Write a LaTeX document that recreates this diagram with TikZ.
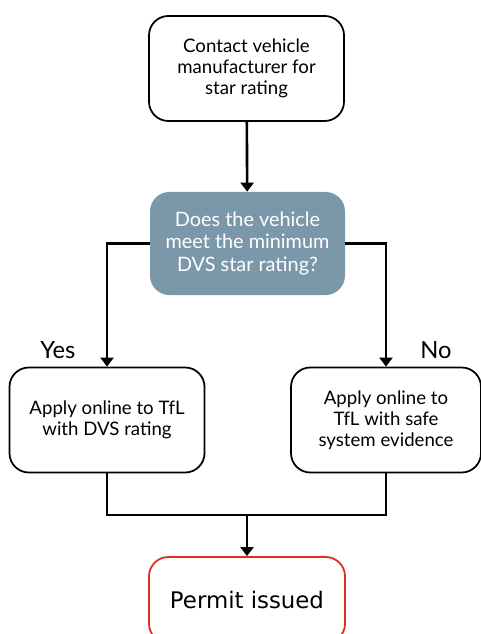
\documentclass[tikz,border=0pt]{standalone}
\usepackage{fontspec}
\setmainfont{Lato}
\newfontfamily\permitfont{DejaVu Sans}
\usetikzlibrary{arrows.meta,positioning}
\definecolor{slate}{RGB}{123,152,170}
\definecolor{permitred}{RGB}{222,45,35}
\tikzset{
  >={Triangle[length=1.8mm,width=2.6mm]},
  stepbox/.style={draw=#1,fill=white,line width=1pt,rounded corners=11pt,
    minimum height=21mm,minimum width=39mm,align=center,
    font=\fontsize{10.6}{12}\selectfont},
  stepbox/.default=black,
  decision/.style={fill=slate,text=white,rounded corners=11pt,
    minimum height=20.6mm,minimum width=39mm,align=center,
    font=\fontsize{11.3}{12.6}\selectfont},
  flow/.style={->,line width=1.5pt},
  flow/.default=black,
  answer/.style={font=\fontsize{13.5}{15}\selectfont},
}

\begin{document}
\begin{tikzpicture}
  \clip (0,0) rectangle (9.62,-12.68);
  % boxes
  \node[stepbox] (contact) at (4.93,-1.37) {Contact vehicle\\manufacturer for\\star rating};
  \node[decision] (check) at (4.95,-4.87) {Does the vehicle\\meet the minimum\\DVS star rating?};
  \node[stepbox] (yesapply) at (2.14,-8.4) {Apply online to TfL\\with DVS rating};
  \node[stepbox,minimum width=38mm] (noapply) at (7.72,-8.4) {Apply online to\\TfL with safe\\system evidence};
  \node[stepbox=permitred,minimum width=39.2mm,minimum height=17.2mm] (permit) at (4.94,-12.0) {\permitfont\fontsize{13}{15}\selectfont Permit issued};
  % answers
  \node[answer] (yes) at (1.16,-7.0) {Yes};
  \node[answer] (no) at (8.72,-7.0) {No};
  % connectors
  \draw[flow] (contact) -- (check);
  \draw[flow] (check.west) -| (yesapply.north);
  \draw[flow] (check.east) -| (noapply.north);
  \coordinate (join) at (4.94,-10.3);
  \draw[line width=1.5pt] (yesapply.south) |- (join) -| (noapply.south);
  \draw[flow] (join) -- (permit);
\end{tikzpicture}
\end{document}
